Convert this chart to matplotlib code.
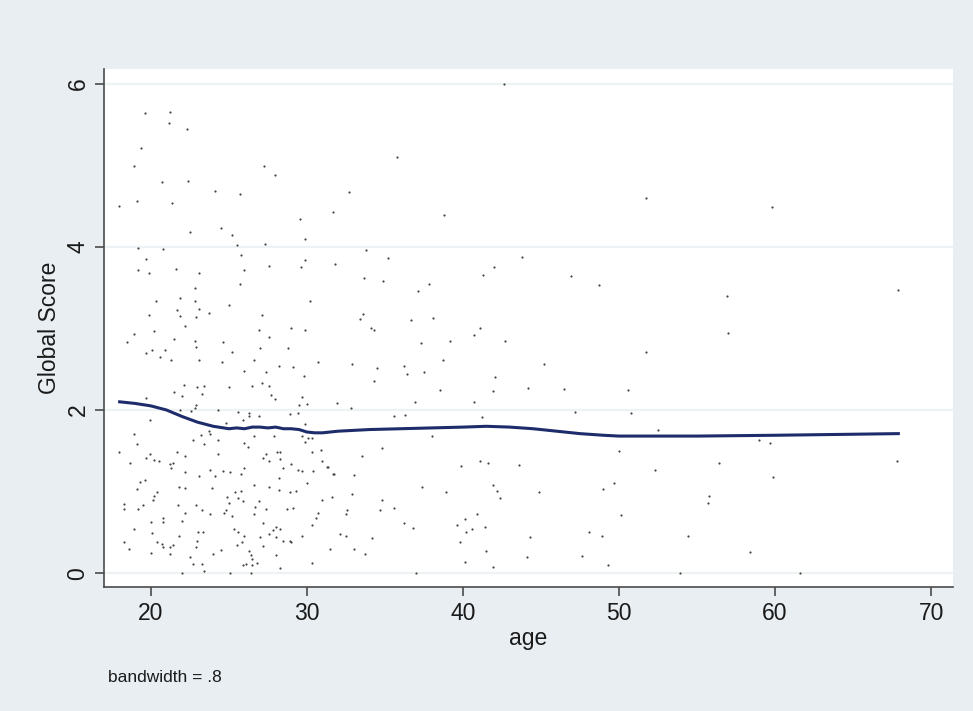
import numpy as np
import matplotlib
matplotlib.use("Agg")
import matplotlib.pyplot as plt

# scatter points (age, global score)
age = [19.6, 21.26, 21.15, 22.3, 19.4, 18.9, 20.7, 22.4, 24.1, 17.95, 19.1, 21.35, 22.5, 24.5,
       27.26, 27.95, 25.7, 31.67, 29.57, 25.2, 29.85,
       19.2, 20.8, 19.7, 19.2, 19.9, 21.6, 23.1, 22.8, 20.3, 21.9, 22.8, 21.65, 23.1, 23.7,
       19.9, 21.9, 22.9, 22.2, 20.2, 18.9, 21.5, 18.5, 22.8, 24.6, 22.9, 20.05, 20.9, 19.7,
       20.6, 21.3, 23.1, 24.55, 22.1, 22.95, 23.4, 21.5, 21.97, 23.3, 19.7, 22.9, 22.8, 22.6,
       21.9, 24.3,
       25.5, 27.3, 25.8, 29.9, 31.8, 26.0, 27.6, 29.6, 25.7, 30.2, 25.0, 27.1, 26.9, 29.0,
       29.9, 27.6, 25.2, 27.0, 28.8, 26.6, 28.2, 29.1, 30.7, 26.0, 27.4, 29.8, 25.0, 26.5,
       27.1, 27.6, 27.7, 27.97, 29.7, 29.5, 29.98, 31.9, 25.6, 26.3, 28.9, 29.4,
       19.94, 18.9, 19.1, 17.95, 19.96, 19.66, 20.2, 20.5, 18.65, 21.7, 22.2, 21.26, 21.4,
       21.3, 22.7, 23.2, 23.4, 23.7, 23.8, 24.3, 24.3, 23.8, 22.2, 23.1, 24.1, 19.3, 19.6,
       19.1, 21.8, 22.2, 23.9, 20.4, 20.2, 20.15, 18.3, 18.3, 19.2, 19.5, 21.75, 22.9, 23.3,
       22.2, 23.8, 20.8, 20.0, 20.8, 22.0, 20.1, 18.9, 23.0, 23.35, 21.8, 18.3, 18.6, 20.4,
       20.7, 20.8, 21.4, 21.2, 22.97, 22.9, 20.0, 21.2, 24.0, 24.5, 22.5, 22.7, 23.3, 23.4,
       21.97,
       26.3, 26.9, 25.9, 24.8, 29.9, 26.6, 27.9, 29.7, 30.1, 30.3, 29.9, 26.0, 26.2, 30.9,
       27.4, 28.1, 28.3, 30.3, 27.2, 27.6, 28.25, 31.0, 29.0, 31.3, 26.0, 28.5, 29.4, 29.7,
       30.4, 24.6, 25.1, 25.8, 31.7, 28.2, 30.0, 26.6, 27.6, 28.2, 29.3, 28.9, 25.4, 25.75,
       24.9, 25.6, 25.9, 26.9, 31.6, 31.0, 25.0, 26.7, 28.7, 29.1, 27.4, 24.8, 24.7, 26.6,
       30.7, 25.2, 30.6, 27.2, 30.3, 25.3, 25.6, 27.8, 28.0, 28.3, 26.0, 27.6, 28.0, 27.0,
       29.7, 28.5, 28.9, 29.0, 25.85, 25.5, 27.2, 31.5, 26.3, 28.0, 26.4, 26.5, 26.8, 26.5,
       25.9, 26.1, 30.3, 28.3, 25.1, 26.4,
       37.3, 39.2, 40.7, 42.7, 51.7, 32.9, 34.5, 36.2, 36.4, 37.5, 38.7, 34.3, 45.2, 42.05,
       41.9, 38.5, 44.15, 46.5, 50.6, 32.8, 36.9, 40.7, 47.2, 50.8, 35.6, 36.3, 41.2, 38.0,
       34.8, 50.0, 33.5, 41.1, 41.6, 39.85, 43.6, 31.35, 31.75, 33.0, 37.4, 41.9, 42.2, 42.35,
       38.9, 44.85, 49.7, 49.0, 32.9, 34.8, 35.6, 34.7, 32.6, 32.5, 40.9, 50.1, 40.1, 39.6,
       36.2, 36.8, 40.2, 40.6, 41.4, 48.1, 48.9, 32.1, 32.5, 34.2, 44.3, 39.8, 33.0, 33.7,
       41.5, 44.1, 47.6, 40.1, 41.9, 49.3, 37.0,
       42.6, 35.8, 32.7, 38.8, 51.75, 33.8, 35.2, 43.8, 42.0, 41.3, 33.65, 34.9, 46.9, 48.7,
       37.1, 37.8, 33.6, 33.4, 36.7, 38.05, 34.1, 34.3, 41.1,
       59.8, 56.9, 67.9, 57.0, 52.5, 59.0, 59.7, 52.3, 56.4, 59.9, 67.8, 55.75, 55.7, 54.4,
       58.4, 53.9, 61.6]
score = [5.64, 5.65, 5.52, 5.45, 5.21, 4.99, 4.80, 4.81, 4.69, 4.50, 4.56, 4.54, 4.18, 4.23,
         4.99, 4.88, 4.65, 4.43, 4.34, 4.15, 4.09,
         3.99, 3.97, 3.85, 3.71, 3.68, 3.73, 3.68, 3.49, 3.34, 3.37, 3.33, 3.22, 3.24, 3.19,
         3.16, 3.15, 3.14, 3.03, 2.97, 2.93, 2.87, 2.83, 2.84, 2.83, 2.77, 2.74, 2.74, 2.70,
         2.65, 2.61, 2.61, 2.59, 2.30, 2.28, 2.29, 2.22, 2.17, 2.20, 2.15, 2.06, 2.02, 1.99,
         2.00, 2.00,
         4.02, 4.03, 3.90, 3.84, 3.79, 3.71, 3.76, 3.75, 3.55, 3.34, 3.29, 3.17, 2.98, 3.00,
         2.98, 2.89, 2.71, 2.76, 2.76, 2.61, 2.54, 2.53, 2.59, 2.48, 2.47, 2.42, 2.28, 2.29,
         2.33, 2.29, 2.18, 2.13, 2.16, 2.06, 2.07, 2.08, 1.98, 1.96, 1.95, 1.96,
         1.88, 1.71, 1.58, 1.49, 1.46, 1.41, 1.39, 1.38, 1.35, 1.49, 1.44, 1.34, 1.35,
         1.29, 1.63, 1.69, 1.58, 1.74, 1.71, 1.63, 1.46, 1.26, 1.24, 1.19, 1.19, 1.12, 1.14,
         1.03, 1.05, 1.04, 1.04, 0.99, 0.95, 0.90, 0.85, 0.79, 0.79, 0.83, 0.84, 0.84, 0.78,
         0.74, 0.73, 0.67, 0.63, 0.63, 0.64, 0.49, 0.54, 0.51, 0.51, 0.45, 0.38, 0.30, 0.38,
         0.36, 0.32, 0.35, 0.32, 0.39, 0.32, 0.25, 0.23, 0.23, 0.28, 0.20, 0.11, 0.11, 0.03,
         0.00,
         1.93, 1.92, 1.88, 1.84, 1.83, 1.68, 1.68, 1.68, 1.66, 1.66, 1.61, 1.60, 1.55, 1.51,
         1.46, 1.49, 1.48, 1.48, 1.41, 1.38, 1.40, 1.38, 1.34, 1.30, 1.29, 1.29, 1.27, 1.25,
         1.25, 1.25, 1.24, 1.21, 1.21, 1.16, 1.10, 1.08, 1.06, 1.02, 1.01, 0.99, 0.99, 1.01,
         0.93, 0.92, 0.89, 0.88, 0.93, 0.90, 0.86, 0.81, 0.79, 0.80, 0.79, 0.78, 0.74, 0.73,
         0.74, 0.70, 0.68, 0.61, 0.59, 0.54, 0.51, 0.53, 0.56, 0.54, 0.46, 0.48, 0.44, 0.44,
         0.45, 0.39, 0.39, 0.38, 0.38, 0.34, 0.33, 0.29, 0.27, 0.22, 0.22, 0.17, 0.13, 0.10,
         0.10, 0.11, 0.13, 0.06, 0.00, 0.00,
         2.82, 2.85, 2.92, 2.85, 2.71, 2.56, 2.51, 2.54, 2.44, 2.46, 2.61, 2.36, 2.56, 2.40,
         2.23, 2.24, 2.27, 2.26, 2.24, 2.02, 2.10, 2.10, 1.98, 1.96, 1.93, 1.94, 1.91, 1.68,
         1.53, 1.50, 1.44, 1.38, 1.35, 1.31, 1.33, 1.30, 1.21, 1.20, 1.06, 1.08, 1.01, 0.92,
         0.99, 0.99, 1.11, 1.03, 0.97, 0.90, 0.80, 0.77, 0.78, 0.73, 0.73, 0.71, 0.66, 0.59,
         0.62, 0.55, 0.50, 0.54, 0.57, 0.51, 0.45, 0.48, 0.45, 0.43, 0.44, 0.38, 0.29, 0.24,
         0.27, 0.20, 0.21, 0.14, 0.07, 0.10, 0.00,
         6.00, 5.10, 4.67, 4.39, 4.60, 3.96, 3.86, 3.88, 3.75, 3.65, 3.62, 3.58, 3.64, 3.53,
         3.46, 3.54, 3.18, 3.12, 3.10, 3.13, 3.01, 2.98, 3.01,
         4.49, 3.40, 3.47, 2.94, 1.75, 1.63, 1.60, 1.26, 1.35, 1.18, 1.38, 0.95, 0.86, 0.46,
         0.26, 0.00, 0.00]

# lowess smooth (bandwidth .8)
lw_age = [18.0, 19.0, 20.0, 21.0, 22.0, 23.0, 24.0, 25.0, 25.5, 26.0, 26.5, 27.0, 27.5,
          28.0, 28.5, 29.0, 29.5, 30.0, 30.5, 31.0, 32.0, 34.0, 36.0, 38.0, 40.0, 41.5,
          43.0, 44.5, 46.0, 47.5, 49.0, 50.0, 52.0, 55.0, 60.0, 64.0, 67.9]
lw_score = [2.10, 2.08, 2.05, 2.00, 1.92, 1.85, 1.80, 1.77, 1.78, 1.77, 1.79, 1.79, 1.78,
            1.79, 1.77, 1.77, 1.76, 1.73, 1.72, 1.72, 1.74, 1.76, 1.77, 1.78, 1.79, 1.80,
            1.79, 1.77, 1.74, 1.71, 1.69, 1.68, 1.68, 1.68, 1.69, 1.70, 1.71]

plt.rcParams['font.family'] = ['Liberation Sans', 'DejaVu Sans']

bg = '#E8EEF2'
fig = plt.figure(figsize=(9.73, 7.11), dpi=100, facecolor=bg)
ax = fig.add_axes([0.1069, 0.1744, 0.8725, 0.7286])
ax.set_facecolor('white')

for yv in [0, 2, 4, 6]:
    ax.axhline(yv, color='#EDF2F4', lw=1.6, zorder=1)

ax.scatter(age, score, s=2.5, color='#444444', linewidths=0, zorder=2)
ax.plot(lw_age, lw_score, color='#1e2c6b', lw=2.2, zorder=3)

ax.set_xlim(17.0, 71.4)
ax.set_ylim(-0.17, 6.18)
ax.set_xticks([20, 30, 40, 50, 60, 70])
ax.set_yticks([0, 2, 4, 6])

for s in ['top', 'right']:
    ax.spines[s].set_visible(False)
for s in ['left', 'bottom']:
    ax.spines[s].set_color('#4a4a4a')
    ax.spines[s].set_linewidth(1.2)

ax.tick_params(axis='both', direction='out', length=6.5, width=1.2, color='#4a4a4a',
               labelsize=16.5, labelcolor='#1a1a1a', pad=4)
for lab in ax.get_yticklabels():
    lab.set_rotation(90)
    lab.set_va('center')

ax.set_xlabel('age', fontsize=16.5, color='#1a1a1a', labelpad=2)
ax.set_ylabel('Global Score', fontsize=16.5, color='#1a1a1a', labelpad=4)

fig.text(108 / 973, 1 - 682 / 711, 'bandwidth = .8', fontsize=12.5, color='#1a1a1a',
         ha='left', va='baseline')

plt.savefig('out.png', dpi=100, facecolor=bg)
